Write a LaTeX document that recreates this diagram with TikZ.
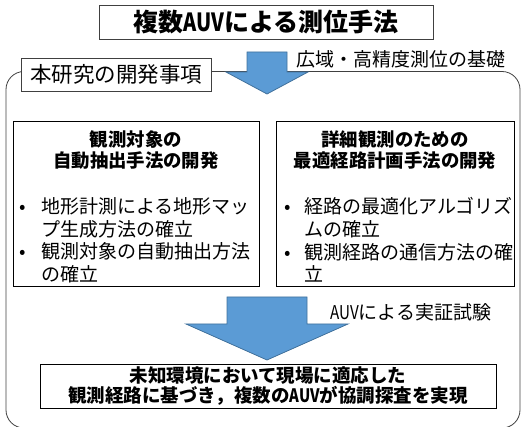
\documentclass[tikz,border=0pt]{standalone}
\usepackage{fontspec}
\setmainfont{Noto Sans CJK JP}
\usepackage{graphicx}
\newcommand{\auvtxt}{\scalebox{0.8}[1]{AUV}}
\newcommand{\blt}[1]{\makebox[#1][l]{\hspace{4pt}•}}
\definecolor{arrowfill}{HTML}{5B9BD5}
\definecolor{arrowline}{HTML}{41719C}
\definecolor{frameline}{HTML}{404040}
\begin{document}
\begin{tikzpicture}[x=1pt,y=-1pt,
  box/.style={draw=black, line width=0.9pt, fill=white, inner sep=0pt},
  blockarrow/.style={fill=arrowfill, draw=arrowline, line width=0.8pt, line join=miter},
  plain/.style={inner sep=0pt, text=black},
  headtxt/.style={plain, align=center, font=\fontsize{18.4}{20.5}\selectfont\bfseries},
  listtxt/.style={plain, anchor=north west, font=\fontsize{19}{22}\selectfont}]
\useasboundingbox (0,0) rectangle (523,427);
\begin{scope}
\clip (0,0) rectangle (523,427);
\draw[frameline, line width=0.8pt, rounded corners=18pt] (6,71.5) rectangle (520,428);
\end{scope}
% title
\node[box, draw=frameline, minimum width=334pt, minimum height=34pt] (title) at (266,22)
  {\fontsize{25}{30}\selectfont\bfseries 複数\auvtxt による測位手法};
% top arrow
\coordinate (ta) at (267,52);
\draw[blockarrow] ([xshift=-20pt]ta) -- ([xshift=20pt]ta) -- ([xshift=20pt,yshift=-20pt]ta)
  -- ([xshift=41pt,yshift=-20pt]ta) -- ([yshift=-42pt]ta) -- ([xshift=-41pt,yshift=-20pt]ta)
  -- ([xshift=-20pt,yshift=-20pt]ta) -- cycle;
\node[plain, anchor=west] (wide) at (296,59) {\fontsize{19}{23}\selectfont 広域・高精度測位の基礎};
% label
\node[box, draw=frameline, minimum width=190pt, minimum height=33pt] (devlabel) at (116.5,74.5)
  {\fontsize{21.5}{25}\selectfont 本研究の開発事項};
% left box
\node[box, minimum width=246pt, minimum height=165pt] (leftbox) at (136,203.5) {};
\node[headtxt] (lefthead) at (136,150) {観測対象の\\自動抽出手法の開発};
\node[listtxt] (leftlist) at (15,197.5) {\begin{tabular}{@{}l@{}l@{}}
\blt{26pt} & 地形計測による地形マッ\\
 & プ生成方法の確立\\
\blt{26pt} & 観測対象の自動抽出方法\\
 & の確立
\end{tabular}};
% right box
\node[box, minimum width=238pt, minimum height=165pt] (rightbox) at (395,203.5) {};
\node[headtxt] (righthead) at (395,150) {詳細観測のための\\最適経路計画手法の開発};
\node[listtxt] (rightlist) at (280,197.5) {\begin{tabular}{@{}l@{}l@{}}
\blt{24pt} & 経路の最適化アルゴリズ\\
 & ムの確立\\
\blt{24pt} & 観測経路の通信方法の確\\
 & 立
\end{tabular}};
% bottom arrow
\coordinate (ba) at (267,297);
\draw[blockarrow] ([xshift=-40pt]ba) -- ([xshift=40pt]ba) -- ([xshift=40pt,yshift=-27pt]ba)
  -- ([xshift=81pt,yshift=-27pt]ba) -- ([yshift=-63pt]ba) -- ([xshift=-81pt,yshift=-27pt]ba)
  -- ([xshift=-40pt,yshift=-27pt]ba) -- cycle;
\node[plain, anchor=west] (test) at (330,312) {\fontsize{19}{23}\selectfont \auvtxt による実証試験};
% result box
\node[box, minimum width=456pt, minimum height=44pt, align=center,
  font=\fontsize{18.5}{20.5}\selectfont\bfseries] (result) at (268,386)
  {未知環境において現場に適応した\\観測経路に基づき，複数の\auvtxt が協調探査を実現};
\end{tikzpicture}
\end{document}
